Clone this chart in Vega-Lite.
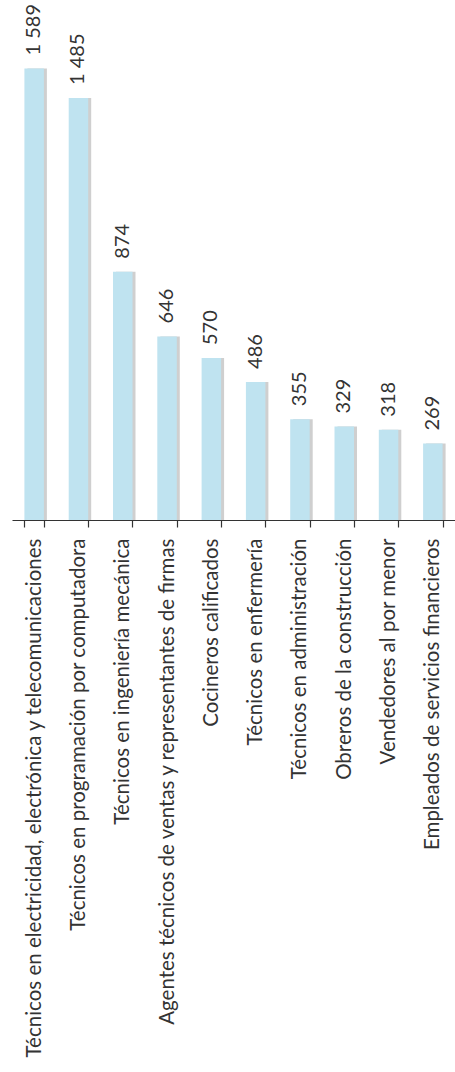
{
  "$schema": "https://vega.github.io/schema/vega-lite/v6.json",
  "width": 443,
  "height": 520,
  "autosize": "none",
  "padding": {"left": 12, "top": 0, "right": 0, "bottom": 552},
  "background": "white",
  "config": {
    "view": {"stroke": null},
    "font": "Lato",
    "locale": {"number": {"decimal": ",", "thousands": " ", "grouping": [3], "currency": ["$", ""]}}
  },
  "data": {
    "values": [
      {"ocupacion": "Técnicos en electricidad, electrónica y telecomunicaciones", "valor": 1589},
      {"ocupacion": "Técnicos en programación por computadora", "valor": 1485},
      {"ocupacion": "Técnicos en ingeniería mecánica", "valor": 874},
      {"ocupacion": "Agentes técnicos de ventas y representantes de firmas", "valor": 646},
      {"ocupacion": "Cocineros calificados", "valor": 570},
      {"ocupacion": "Técnicos en enfermería", "valor": 486},
      {"ocupacion": "Técnicos en administración", "valor": 355},
      {"ocupacion": "Obreros de la construcción", "valor": 329},
      {"ocupacion": "Vendedores al por menor", "valor": 318},
      {"ocupacion": "Empleados de servicios financieros", "valor": 269}
    ]
  },
  "encoding": {
    "x": {
      "field": "ocupacion",
      "type": "nominal",
      "sort": null,
      "scale": {"paddingInner": 0.56, "paddingOuter": 0.28},
      "axis": {
        "title": null,
        "labelAngle": 270,
        "labelFontSize": 20.5,
        "labelFont": "Lato",
        "labelColor": "#333333",
        "labelPadding": 11,
        "labelLimit": 0,
        "domainColor": "#333333",
        "domainWidth": 1.2,
        "tickColor": "#333333",
        "tickWidth": 1.2,
        "tickSize": 7,
        "tickBand": "extent",
        "tickExtra": true
      }
    },
    "y": {
      "field": "valor",
      "type": "quantitative",
      "scale": {"domain": [0, 1830]},
      "axis": null
    }
  },
  "layer": [
    {"mark": {"type": "bar", "color": "#cfcfcf", "xOffset": 3}},
    {"mark": {"type": "bar", "color": "#bfe3f0"}},
    {
      "mark": {"type": "text", "angle": 270, "align": "left", "baseline": "middle", "dx": 13, "fontSize": 20, "font": "Lato", "color": "#333333"},
      "encoding": {"text": {"field": "valor", "type": "quantitative", "format": ",d"}}
    }
  ]
}
